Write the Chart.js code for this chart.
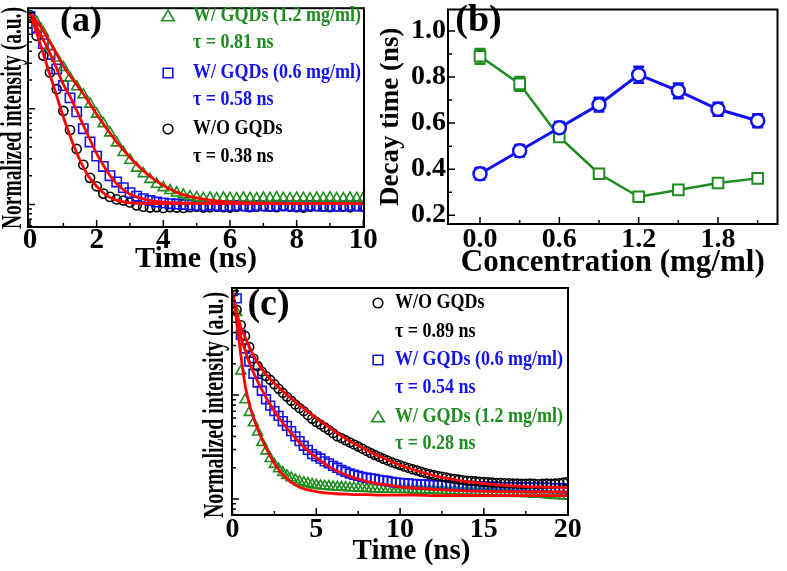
<!DOCTYPE html>
<html>
<head>
<meta charset="utf-8">
<script src="https://cdn.jsdelivr.net/npm/chart.js@4.4.0/dist/chart.umd.min.js"></script>
<style>
  body { margin: 0; background: #fff; width: 787px; height: 571px; position: relative; overflow: hidden; }
  canvas { position: absolute; }
  #chartA { left: 0; top: 0; }
  #chartB { left: 380px; top: 0; }
  #chartC { left: 190px; top: 270px; }
</style>
</head>
<body>
<canvas id="chartA" width="385" height="278"></canvas>
<canvas id="chartB" width="407" height="278"></canvas>
<canvas id="chartC" width="400" height="301"></canvas>
<script>
// ---- panel (a): decay curves, 0-10 ns ----
const timeA = [0, 0.2, 0.4, 0.6, 0.8, 1, 1.2, 1.4, 1.6, 1.8, 2, 2.2, 2.4, 2.6, 2.8, 3, 3.2, 3.4, 3.6, 3.8,
  4, 4.2, 4.4, 4.6, 4.8, 5, 5.2, 5.4, 5.6, 5.8, 6, 6.2, 6.4, 6.6, 6.8, 7, 7.2, 7.4, 7.6, 7.8,
  8, 8.2, 8.4, 8.6, 8.8, 9, 9.2, 9.4, 9.6, 9.8, 10];
const blackA = [0.95, 0.58, 0.36, 0.24, 0.16, 0.095, 0.06, 0.038, 0.026, 0.019,
  0.0155, 0.013, 0.012, 0.0113, 0.011, 0.0105, 0.0098, 0.0095, 0.0093, 0.0094,
  0.0092, 0.0094, 0.0093, 0.0092, 0.0094, 0.0095, 0.0093, 0.0094, 0.0095, 0.0094,
  0.0093, 0.0095, 0.0096, 0.0094, 0.0095, 0.0096, 0.0095, 0.0094, 0.0096, 0.0095,
  0.0094, 0.0093, 0.0095, 0.0096, 0.0095, 0.0094, 0.0096, 0.0095, 0.0094, 0.0096, 0.0095];
const blueA = [0.92, 0.7, 0.48, 0.37, 0.26, 0.175, 0.13, 0.093, 0.062, 0.045,
  0.032, 0.025, 0.02, 0.0172, 0.015, 0.0133, 0.0122, 0.0115, 0.011, 0.0106,
  0.0104, 0.0102, 0.0101, 0.01, 0.0099, 0.0098, 0.0097, 0.0099, 0.0098, 0.0096,
  0.0097, 0.0098, 0.0097, 0.0096, 0.0098, 0.0097, 0.0096, 0.0097, 0.0098, 0.0097,
  0.0096, 0.0097, 0.0098, 0.0097, 0.0096, 0.0097, 0.0096, 0.0097, 0.0098, 0.0097, 0.0096];
const greenA = [0.9, 0.8, 0.62, 0.45, 0.34, 0.27, 0.21, 0.17, 0.14, 0.112,
  0.088, 0.07, 0.056, 0.044, 0.035, 0.029, 0.024, 0.021, 0.0183, 0.0163,
  0.015, 0.014, 0.0132, 0.0126, 0.0121, 0.0118, 0.0116, 0.0117, 0.0115, 0.0117,
  0.0116, 0.0115, 0.0117, 0.0116, 0.0115, 0.0117, 0.0116, 0.0118, 0.0116, 0.0115,
  0.0117, 0.0116, 0.0115, 0.0117, 0.0116, 0.0118, 0.0116, 0.0115, 0.0117, 0.0116, 0.0117];
const fitTimeA = [0, 0.25, 0.5, 0.75, 1, 1.25, 1.5, 1.75, 2, 2.25, 2.5, 2.75, 3, 3.5, 4, 4.5, 5, 5.5, 6, 7, 8, 9, 10];
const blackFitA = [1.0, 0.55, 0.29, 0.155, 0.082, 0.047, 0.029, 0.0198, 0.0155, 0.0128, 0.0114, 0.0107,
  0.0104, 0.0102, 0.0102, 0.0102, 0.0102, 0.0102, 0.0102, 0.0102, 0.0102, 0.0102, 0.0102];
const blueFitA = [1.0, 0.66, 0.45, 0.29, 0.18, 0.125, 0.08, 0.052, 0.034, 0.024, 0.018, 0.0148,
  0.0128, 0.0112, 0.0106, 0.0104, 0.0103, 0.0102, 0.0102, 0.0102, 0.0102, 0.0102, 0.0102];
const greenFitA = [1.0, 0.78, 0.57, 0.4, 0.28, 0.21, 0.16, 0.12, 0.088, 0.066, 0.05, 0.039,
  0.031, 0.021, 0.0158, 0.013, 0.0117, 0.011, 0.0106, 0.0103, 0.0102, 0.0102, 0.0102];

// ---- panel (b): decay time vs concentration ----
const concentration = [0, 0.3, 0.6, 0.9, 1.2, 1.5, 1.8, 2.1];
const decayBlue = [0.38, 0.48, 0.58, 0.68, 0.81, 0.74, 0.66, 0.61];
const errBlue = [0.025, 0.025, 0.025, 0.03, 0.035, 0.032, 0.028, 0.028];
const decayGreen = [0.89, 0.77, 0.54, 0.38, 0.28, 0.31, 0.34, 0.36];
const errGreen = [0.032, 0.03, 0.02, 0.02, 0.02, 0.02, 0.02, 0.02];

// ---- panel (c): decay curves, 0-20 ns ----
const timeC = [0, 0.25, 0.5, 0.75, 1, 1.25, 1.5, 1.75, 2, 2.25,
  2.5, 2.75, 3, 3.25, 3.5, 3.75, 4, 4.25, 4.5, 4.75,
  5, 5.25, 5.5, 5.75, 6, 6.25, 6.5, 6.75, 7, 7.25,
  7.5, 7.75, 8, 8.25, 8.5, 8.75, 9, 9.25, 9.5, 9.75,
  10, 10.25, 10.5, 10.75, 11, 11.25, 11.5, 11.75, 12, 12.25,
  12.5, 12.75, 13, 13.25, 13.5, 13.75, 14, 14.25, 14.5, 14.75,
  15, 15.25, 15.5, 15.75, 16, 16.25, 16.5, 16.75, 17, 17.25,
  17.5, 17.75, 18, 18.25, 18.5, 18.75, 19, 19.25, 19.5, 19.75, 20];
const blackC = [1.0, 0.66, 0.47, 0.37, 0.29, 0.225, 0.19, 0.168, 0.152, 0.14,
  0.127, 0.115, 0.105, 0.096, 0.088, 0.081, 0.075, 0.07, 0.064, 0.059,
  0.055, 0.052, 0.049, 0.046, 0.043, 0.04, 0.0385, 0.0367, 0.035, 0.0335,
  0.032, 0.0305, 0.029, 0.0277, 0.0265, 0.0254, 0.0244, 0.0235, 0.0226, 0.0219,
  0.0212, 0.0205, 0.0199, 0.0193, 0.0188, 0.0183, 0.0178, 0.0174, 0.017, 0.0167,
  0.0164, 0.0161, 0.0158, 0.0156, 0.0154, 0.0152, 0.015, 0.0149, 0.0148, 0.0147,
  0.0146, 0.0145, 0.0144, 0.0143, 0.0143, 0.0142, 0.0142, 0.0141, 0.0141, 0.014,
  0.014, 0.0141, 0.014, 0.0139, 0.014, 0.0141, 0.014, 0.0141, 0.0142, 0.0144, 0.0146];
const blueC = [1.0, 0.85, 0.38, 0.28, 0.21, 0.16, 0.132, 0.11, 0.091, 0.079,
  0.07, 0.063, 0.056, 0.0505, 0.045, 0.04, 0.036, 0.0325, 0.0297, 0.027,
  0.0257, 0.0245, 0.023, 0.022, 0.0208, 0.02, 0.019, 0.0183, 0.0176, 0.0171,
  0.0167, 0.0163, 0.016, 0.0158, 0.0156, 0.0153, 0.0151, 0.0149, 0.0146, 0.0144,
  0.0143, 0.0142, 0.0141, 0.014, 0.0139, 0.0138, 0.0138, 0.0137, 0.0136, 0.0136,
  0.0135, 0.0136, 0.0135, 0.0134, 0.0135, 0.0134, 0.0133, 0.0134, 0.0133, 0.0132,
  0.0133, 0.0132, 0.0131, 0.0132, 0.0131, 0.013, 0.0131, 0.013, 0.013, 0.0129,
  0.013, 0.0129, 0.0128, 0.0129, 0.0128, 0.0129, 0.0128, 0.0127, 0.0128, 0.0127, 0.0127];
const greenC = [1.0, 0.62, 0.17, 0.09, 0.068, 0.054, 0.044, 0.035, 0.029, 0.0245,
  0.0215, 0.0195, 0.018, 0.0168, 0.016, 0.0153, 0.0147, 0.0144, 0.0141, 0.0138,
  0.0136, 0.0134, 0.0133, 0.0132, 0.0131, 0.013, 0.013, 0.0129, 0.0128, 0.0128,
  0.0127, 0.0127, 0.0126, 0.0126, 0.0125, 0.0125, 0.0124, 0.0124, 0.0124, 0.0123,
  0.0124, 0.0123, 0.0123, 0.0122, 0.0123, 0.0122, 0.0121, 0.0122, 0.0121, 0.012,
  0.0121, 0.012, 0.0119, 0.012, 0.0119, 0.0118, 0.0119, 0.0118, 0.0117, 0.0118,
  0.0117, 0.0116, 0.0117, 0.0116, 0.0115, 0.0116, 0.0115, 0.0114, 0.0113, 0.0114,
  0.0113, 0.0112, 0.0111, 0.0112, 0.0111, 0.011, 0.0109, 0.0108, 0.0108, 0.0107, 0.0106];
const fitTimeC = [0, 0.25, 0.5, 0.75, 1, 1.5, 2, 2.5, 3, 3.5, 4, 5, 6, 7, 8, 9, 10, 11, 12, 13, 14, 15, 16, 17, 18, 19, 20];
const blackFitC = [1.0, 0.62, 0.45, 0.36, 0.29, 0.205, 0.158, 0.13, 0.109, 0.093, 0.08, 0.06, 0.046, 0.036,
  0.0295, 0.0248, 0.0212, 0.0187, 0.0169, 0.0156, 0.0147, 0.0141, 0.0136, 0.0133, 0.0131, 0.013, 0.0129];
const blueFitC = [1.0, 0.55, 0.36, 0.27, 0.205, 0.135, 0.095, 0.07, 0.054, 0.043, 0.035, 0.025, 0.0195, 0.0165,
  0.0148, 0.0138, 0.0131, 0.0127, 0.0124, 0.0122, 0.012, 0.0119, 0.0118, 0.0118, 0.0117, 0.0117, 0.0117];
const greenFitC = [1.0, 0.5, 0.24, 0.125, 0.082, 0.047, 0.031, 0.022, 0.0172, 0.0145, 0.013, 0.0118, 0.0113, 0.0111,
  0.011, 0.0109, 0.0109, 0.0109, 0.0108, 0.0108, 0.0108, 0.0108, 0.0108, 0.0108, 0.0108, 0.0108, 0.0108];

const GREEN = '#1e8c1e';
const BLUE = '#1010f0';
const RED = '#ff0000';
const SERIF = "'Liberation Serif', 'Times New Roman', serif";

Chart.defaults.font.family = SERIF;
Chart.defaults.color = '#000';

function pts(xs, ys) {
    return xs.map((x, i) => ({ x: x, y: ys[i] }));
}

function fixWidth(w) {
    return s => { s.width = w; s.paddingTop = s.paddingBottom = s.paddingLeft = s.paddingRight = 0; };
}

function fixHeight(h) {
    return s => { s.height = h; s.paddingTop = s.paddingBottom = s.paddingLeft = s.paddingRight = 0; };
}

function boldFont(size) {
    return { family: SERIF, size: size, weight: 'bold', lineHeight: 1 };
}

function markers(data, style, color, radius) {
    return {
        data: data, showLine: false, pointStyle: style, pointRadius: radius,
        pointBorderWidth: 1.6, pointBorderColor: color, pointBackgroundColor: 'rgba(0,0,0,0)',
        borderColor: color, order: 1
    };
}

function fitLine(data) {
    return {
        data: data, borderColor: RED, borderWidth: 2.8, pointRadius: 0,
        cubicInterpolationMode: 'monotone', order: 0
    };
}

// frame, inward ticks, error bars, legends and labels
const decor = {
    id: 'decor',
    beforeDatasetsDraw(chart) {
        const { ctx, scales: { x, y } } = chart;
        chart.data.datasets.forEach(ds => {
            if (!ds.errors) return;
            ctx.save();
            ctx.strokeStyle = ds.borderColor;
            ctx.lineWidth = 2.5;
            ctx.beginPath();
            ds.data.forEach((p, i) => {
                const px = x.getPixelForValue(p.x);
                const top = y.getPixelForValue(p.y + ds.errors[i]);
                const bot = y.getPixelForValue(p.y - ds.errors[i]);
                ctx.moveTo(px, top); ctx.lineTo(px, bot);
                ctx.moveTo(px - 5.5, top); ctx.lineTo(px + 5.5, top);
                ctx.moveTo(px - 5.5, bot); ctx.lineTo(px + 5.5, bot);
            });
            ctx.stroke();
            ctx.restore();
        });
    },
    afterDraw(chart, args, opts) {
        const { ctx, chartArea: a, scales: { x, y } } = chart;
        ctx.save();
        ctx.strokeStyle = '#000';
        ctx.lineWidth = 1.5;
        ctx.beginPath();
        for (let v = Math.ceil(x.min / opts.xMinor) * opts.xMinor; v <= x.max + 1e-9; v += opts.xMinor) {
            const r = v / opts.xMajor;
            const major = Math.abs(r - Math.round(r)) < 1e-6;
            const px = x.getPixelForValue(v);
            ctx.moveTo(px, a.bottom);
            ctx.lineTo(px, a.bottom - (major ? 7 : 4));
        }
        if (y.type === 'logarithmic') {
            for (let e = Math.floor(Math.log10(y.min)); e <= Math.ceil(Math.log10(y.max)); e++) {
                for (let k = 1; k <= 9; k++) {
                    const v = k * Math.pow(10, e);
                    if (v < y.min || v > y.max) continue;
                    const py = y.getPixelForValue(v);
                    ctx.moveTo(a.left, py);
                    ctx.lineTo(a.left + (k === 1 ? 7 : 4), py);
                }
            }
        } else {
            for (let v = Math.ceil(y.min / opts.yMinor) * opts.yMinor; v <= y.max + 1e-9; v += opts.yMinor) {
                const r = v / opts.yMajor;
                const major = Math.abs(r - Math.round(r)) < 1e-6;
                const py = y.getPixelForValue(v);
                ctx.moveTo(a.left, py);
                ctx.lineTo(a.left + (major ? 7 : 4), py);
            }
        }
        ctx.stroke();
        ctx.lineWidth = 2;
        ctx.strokeRect(a.left, a.top, a.right - a.left, a.bottom - a.top);

        (opts.marks || []).forEach(m => {
            ctx.strokeStyle = m.color;
            ctx.lineWidth = 1.6;
            ctx.beginPath();
            if (m.shape === 'circle') {
                ctx.arc(m.x, m.y, 4.8, 0, Math.PI * 2);
            } else if (m.shape === 'rect') {
                ctx.rect(m.x - 4.8, m.y - 4.8, 9.6, 9.6);
            } else {
                ctx.moveTo(m.x, m.y - 5.8);
                ctx.lineTo(m.x + 6.3, m.y + 4.8);
                ctx.lineTo(m.x - 6.3, m.y + 4.8);
                ctx.closePath();
            }
            ctx.stroke();
        });

        (opts.texts || []).forEach(t => {
            ctx.save();
            ctx.font = t.font;
            ctx.fillStyle = t.color || '#000';
            ctx.textAlign = t.align || 'left';
            ctx.textBaseline = 'middle';
            ctx.translate(t.x, t.y);
            if (t.rot) ctx.rotate(t.rot);
            if (t.len) {
                ctx.scale(t.len / ctx.measureText(t.text).width, 1);
            } else if (t.sx) {
                ctx.scale(t.sx, 1);
            }
            ctx.fillText(t.text, 0, 0);
            ctx.restore();
        });
        ctx.restore();
    }
};

const LEG = "bold 20px " + SERIF;

function legendTexts(x, rows) {
    return rows.map(r => ({ text: r[0], color: r[1], x: x, y: r[2], font: LEG, sx: 0.9 }));
}

// ---------- (a) ----------
new Chart(document.getElementById('chartA'), {
    type: 'line',
    data: {
        datasets: [
            fitLine(pts(fitTimeA, greenFitA)),
            fitLine(pts(fitTimeA, blueFitA)),
            fitLine(pts(fitTimeA, blackFitA)),
            markers(pts(timeA, greenA), 'triangle', GREEN, 6),
            markers(pts(timeA, blueA), 'rect', BLUE, 6.6),
            markers(pts(timeA, blackA), 'circle', '#000', 4.6)
        ]
    },
    options: {
        responsive: false, animation: false, devicePixelRatio: 1,
        layout: { padding: { left: 0, top: 3, right: 21, bottom: 0 } },
        plugins: {
            legend: { display: false }, tooltip: { enabled: false },
            decor: {
                xMinor: 1, xMajor: 2,
                marks: [
                    { shape: 'triangle', color: GREEN, x: 168, y: 16 },
                    { shape: 'rect', color: BLUE, x: 168, y: 73 },
                    { shape: 'circle', color: '#000', x: 168, y: 129 }
                ],
                texts: legendTexts(193, [
                    ['W/ GQDs (1.2 mg/ml)', GREEN, 16], ['τ = 0.81 ns', GREEN, 43],
                    ['W/ GQDs (0.6 mg/ml)', BLUE, 73], ['τ = 0.58 ns', BLUE, 100],
                    ['W/O GQDs', '#000', 129], ['τ = 0.38 ns', '#000', 157]
                ]).concat([
                    { text: '(a)', x: 81, y: 22, font: 'bold 36px ' + SERIF, align: 'center' },
                    { text: 'Normalized intensity (a.u.)', x: 14, y: 118, rot: -Math.PI / 2,
                      font: 'bold 29px ' + SERIF, align: 'center', len: 222 }
                ])
            }
        },
        scales: {
            x: {
                type: 'linear', min: -0.06, max: 10.02,
                grid: { display: false, drawTicks: false }, border: { display: false },
                ticks: { stepSize: 2, includeBounds: false, padding: -1, font: boldFont(29), color: '#000' },
                title: { display: true, text: 'Time (ns)', font: boldFont(30), color: '#000', padding: { top: 0, bottom: 4 } },
                afterFit: fixHeight(51)
            },
            y: {
                type: 'logarithmic', min: 0.00582, max: 1.125,
                grid: { display: false, drawTicks: false }, border: { display: false },
                ticks: { display: false },
                afterFit: fixWidth(28)
            }
        }
    },
    plugins: [decor]
});

// ---------- (b) ----------
new Chart(document.getElementById('chartB'), {
    type: 'line',
    data: {
        datasets: [
            {
                data: pts(concentration, decayBlue), errors: errBlue,
                borderColor: BLUE, borderWidth: 3, pointStyle: 'circle', pointRadius: 6.5,
                pointBorderWidth: 2.5, pointBorderColor: BLUE, pointBackgroundColor: '#fff'
            },
            {
                data: pts(concentration, decayGreen), errors: errGreen,
                borderColor: GREEN, borderWidth: 2.5, pointStyle: 'rect', pointRadius: 7.5,
                pointBorderWidth: 2, pointBorderColor: GREEN, pointBackgroundColor: '#fff'
            }
        ]
    },
    options: {
        responsive: false, animation: false, devicePixelRatio: 1,
        layout: { padding: { left: 0, top: 3, right: 9, bottom: 0 } },
        plugins: {
            legend: { display: false }, tooltip: { enabled: false },
            decor: {
                xMinor: 0.3, xMajor: 0.6, yMinor: 0.1, yMajor: 0.2,
                texts: [
                    { text: '(b)', x: 98.5, y: 21, font: 'bold 38px ' + SERIF, align: 'center' }
                ]
            }
        },
        scales: {
            x: {
                type: 'linear', min: -0.242, max: 2.25,
                grid: { display: false, drawTicks: false }, border: { display: false },
                ticks: { stepSize: 0.6, includeBounds: false, padding: 2, font: boldFont(28), color: '#000',
                         callback: v => v.toFixed(1) },
                title: { display: true, text: 'Concentration (mg/ml)', font: boldFont(31), color: '#000', padding: { top: 0, bottom: 0 } },
                afterFit: fixHeight(54)
            },
            y: {
                type: 'linear', min: 0.162, max: 1.093,
                grid: { display: false, drawTicks: false }, border: { display: false },
                ticks: { stepSize: 0.2, includeBounds: false, padding: 2, font: boldFont(28), color: '#000',
                         callback: v => v.toFixed(1) },
                title: { display: true, text: 'Decay time (ns)', font: boldFont(27), color: '#000', padding: { top: -2.5, bottom: 0 } },
                afterFit: fixWidth(68)
            }
        }
    },
    plugins: [decor]
});

// ---------- (c) ----------
new Chart(document.getElementById('chartC'), {
    type: 'line',
    data: {
        datasets: [
            fitLine(pts(fitTimeC, blackFitC)),
            fitLine(pts(fitTimeC, blueFitC)),
            fitLine(pts(fitTimeC, greenFitC)),
            markers(pts(timeC, blackC), 'circle', '#000', 4.4),
            markers(pts(timeC, blueC), 'rect', BLUE, 6.2),
            markers(pts(timeC, greenC), 'triangle', GREEN, 5.8)
        ]
    },
    options: {
        responsive: false, animation: false, devicePixelRatio: 1,
        layout: { padding: { left: 0, top: 18, right: 22, bottom: 0 } },
        plugins: {
            legend: { display: false }, tooltip: { enabled: false },
            decor: {
                xMinor: 2.5, xMajor: 5,
                marks: [
                    { shape: 'circle', color: '#000', x: 188, y: 33 },
                    { shape: 'rect', color: BLUE, x: 188, y: 90 },
                    { shape: 'triangle', color: GREEN, x: 188, y: 147 }
                ],
                texts: legendTexts(205, [
                    ['W/O GQDs', '#000', 33], ['τ = 0.89 ns', '#000', 62],
                    ['W/ GQDs (0.6 mg/ml)', BLUE, 90], ['τ = 0.54 ns', BLUE, 118],
                    ['W/ GQDs (1.2 mg/ml)', GREEN, 147], ['τ = 0.28 ns', GREEN, 174]
                ]).concat([
                    { text: '(c)', x: 78.5, y: 35, font: 'bold 38px ' + SERIF, align: 'center' },
                    { text: 'Normalized intensity (a.u.)', x: 26, y: 135, rot: -Math.PI / 2,
                      font: 'bold 29px ' + SERIF, align: 'center', len: 226 },
                    { text: 'Time (ns)', x: 221.5, y: 281.5, font: 'bold 29px ' + SERIF, align: 'center' }
                ])
            }
        },
        scales: {
            x: {
                type: 'linear', min: -0.03, max: 20.02,
                grid: { display: false, drawTicks: false }, border: { display: false },
                ticks: { stepSize: 5, includeBounds: false, padding: 1, font: boldFont(28), color: '#000' },
                afterFit: fixHeight(56)
            },
            y: {
                type: 'logarithmic', min: 0.00702, max: 1.069,
                grid: { display: false, drawTicks: false }, border: { display: false },
                ticks: { display: false },
                afterFit: fixWidth(42)
            }
        }
    },
    plugins: [decor]
});
</script>
</body>
</html>
